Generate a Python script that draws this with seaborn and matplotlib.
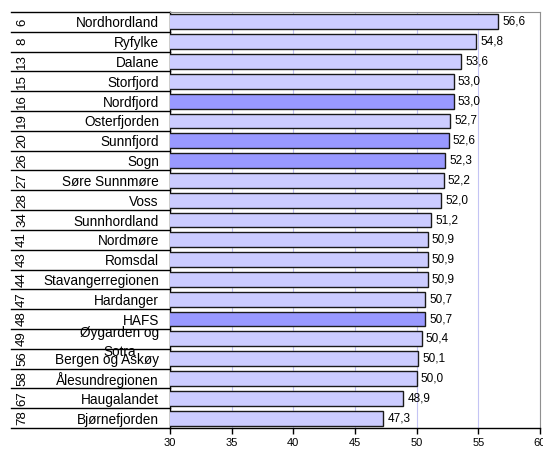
import matplotlib
matplotlib.use("Agg")
import matplotlib.pyplot as plt
import matplotlib.transforms as mtransforms
import seaborn as sns
import pandas as pd

ranks = ["6", "8", "13", "15", "16", "19", "20", "26", "27", "28", "34", "41",
         "43", "44", "47", "48", "49", "56", "58", "67", "78"]
names = ["Nordhordland", "Ryfylke", "Dalane", "Storfjord", "Nordfjord", "Osterfjorden",
         "Sunnfjord", "Sogn", "Søre Sunnmøre", "Voss", "Sunnhordland", "Nordmøre",
         "Romsdal", "Stavangerregionen", "Hardanger", "HAFS", "Øygarden og\nSotra",
         "Bergen og Askøy", "Ålesundregionen", "Haugalandet", "Bjørnefjorden"]
values = [56.6, 54.8, 53.6, 53.0, 53.0, 52.7, 52.6, 52.3, 52.2, 52.0, 51.2, 50.9,
          50.9, 50.9, 50.7, 50.7, 50.4, 50.1, 50.0, 48.9, 47.3]
highlight = ["Nordfjord", "Sunnfjord", "Sogn", "HAFS"]
xticks = [30, 35, 40, 45, 50, 55, 60]

light, dark = "#ccccff", "#9999ff"
df = pd.DataFrame({"name": names, "value": values})
palette = {n: (dark if n in highlight else light) for n in names}

W, H = 543, 449
fig = plt.figure(figsize=(W / 100, H / 100), dpi=100)
plt.rcParams["font.family"] = ["Liberation Sans", "DejaVu Sans"]
x0, x1, y_top, y_bot = 170, 540, 12, 428
ax = fig.add_axes([x0 / W, (H - y_bot) / H, (x1 - x0) / W, (y_bot - y_top) / H])

sns.barplot(data=df, x="value", y="name", hue="name", palette=palette, legend=False,
            orient="h", width=0.75, saturation=1, edgecolor="#1a1a1a", linewidth=1.0,
            ax=ax)
for p in ax.patches:
    p.set_zorder(3)

ax.set_xlim(30, 60)
ax.set_ylim(len(names) - 0.5, -0.5)
ax.set_xticks(xticks)
ax.set_xticklabels([str(t) for t in xticks], fontsize=8)
ax.tick_params(axis="x", direction="out", length=4, width=1, pad=3, color="black")
ax.tick_params(axis="y", length=0, pad=8)
ax.set_xlabel("")
ax.set_ylabel("")
ax.grid(axis="x", color="#c4c4f4", linewidth=0.8)
ax.grid(axis="y", visible=False)
ax.set_axisbelow(True)

for lbl in ax.get_yticklabels():
    lbl.set_fontsize(9.8)
    lbl.set_ha("right")
    lbl.set_multialignment("center")
    lbl.set_linespacing(1.4)

for side in ["top", "right"]:
    ax.spines[side].set_color("#909090")
    ax.spines[side].set_linewidth(0.8)
for side in ["left", "bottom"]:
    ax.spines[side].set_color("black")
    ax.spines[side].set_linewidth(1.0)

for cont in ax.containers:
    labels = [f"{v:.1f}".replace(".", ",") for v in cont.datavalues]
    for t in ax.bar_label(cont, labels=labels, padding=3, fontsize=8.5):
        t.set_zorder(4)

trans = mtransforms.blended_transform_factory(fig.transFigure, ax.transData)
for i in range(len(names) + 1):
    ax.plot([11 / W, x0 / W], [i - 0.5, i - 0.5], transform=trans, color="black",
            linewidth=1.0, clip_on=False)
for i, r in enumerate(ranks):
    ax.text(22 / W, i, r, transform=trans, rotation=90, ha="center", va="center",
            fontsize=9.5)

fig.savefig("out.png", dpi=100)
